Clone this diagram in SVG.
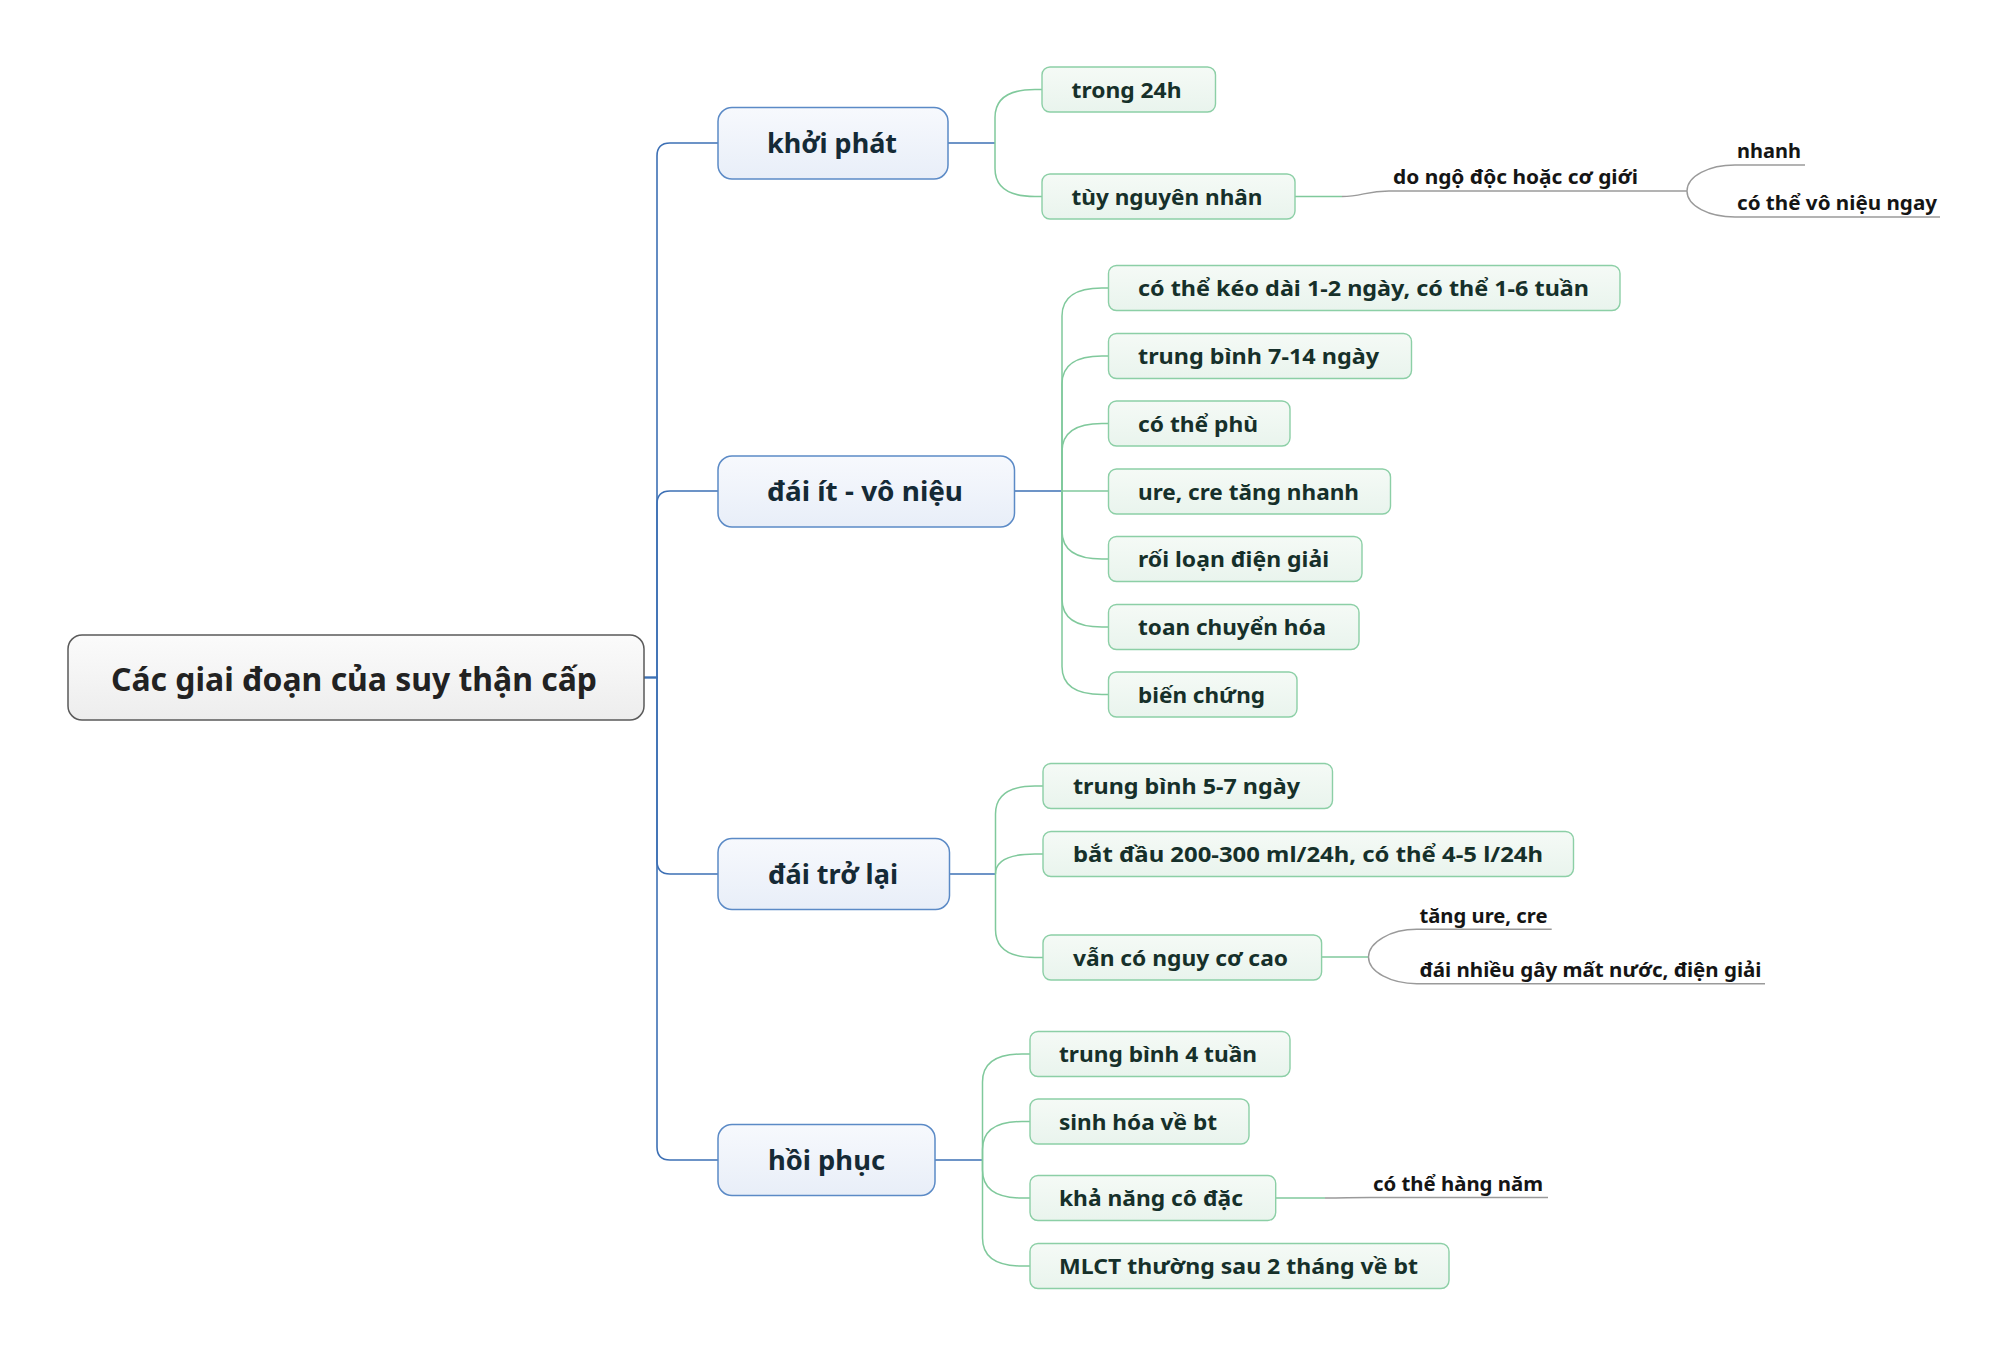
<svg xmlns="http://www.w3.org/2000/svg" width="2008" height="1355" viewBox="0 0 2008 1355">
<defs>
<linearGradient id="gRoot" x1="0" y1="0" x2="0" y2="1"><stop offset="0" stop-color="#fbfbfb"/><stop offset="1" stop-color="#ededed"/></linearGradient>
<linearGradient id="gL1" x1="0" y1="0" x2="0" y2="1"><stop offset="0" stop-color="#f7f9fd"/><stop offset="1" stop-color="#e8eef8"/></linearGradient>
<linearGradient id="gL2" x1="0" y1="0" x2="0" y2="1"><stop offset="0" stop-color="#f5faf6"/><stop offset="1" stop-color="#e9f4ed"/></linearGradient>
</defs>
<style>
text{font-family:"Noto Sans","Open Sans","DejaVu Sans",sans-serif;font-weight:bold}
.root rect{fill:url(#gRoot);stroke:#5a5a5a;stroke-width:1.5}
.root text{font-size:33px;fill:#222;text-anchor:middle}
.l1 rect{fill:url(#gL1);stroke:#5b8ac6;stroke-width:1.5}
.l1 text{font-size:27px;fill:#152a36}
.l2 rect{fill:url(#gL2);stroke:#8ccfa6;stroke-width:1.4}
.l2 text{font-size:22px;fill:#16302a}
.l3 text{font-size:20px;fill:#151515}
.cb{fill:none;stroke:#3d70b5;stroke-width:1.6}
.cg{fill:none;stroke:#80c99c;stroke-width:1.5}
.cy{fill:none;stroke:#9a9a9a;stroke-width:1.4}
</style>
<rect width="2008" height="1355" fill="#ffffff"/>
<g id="connectors">
<path class="cb" d="M644 677.5H657V156Q657 143 670 143H718"/>
<path class="cb" d="M644 677.5H657V504Q657 491 670 491H718"/>
<path class="cb" d="M644 677.5H657V861Q657 874 670 874H718"/>
<path class="cb" d="M644 677.5H657V1147Q657 1160 670 1160H718"/>
<path class="cb" d="M948 143H995"/>
<path class="cg" d="M995 143V117.5Q995 89.5 1035 89.5H1042"/>
<path class="cg" d="M995 143V168.5Q995 196.5 1035 196.5H1042"/>
<path class="cb" d="M1014.5 491H1062"/>
<path class="cg" d="M1062 491V316Q1062 288 1102 288H1108.5"/>
<path class="cg" d="M1062 491V384Q1062 356 1102 356H1108.5"/>
<path class="cg" d="M1062 491V451.5Q1062 423.5 1102 423.5H1108.5"/>
<path class="cg" d="M1062 491H1108.5"/>
<path class="cg" d="M1062 491V531Q1062 559 1102 559H1108.5"/>
<path class="cg" d="M1062 491V599Q1062 627 1102 627H1108.5"/>
<path class="cg" d="M1062 491V666.5Q1062 694.5 1102 694.5H1108.5"/>
<path class="cb" d="M949.5 874H995.5"/>
<path class="cg" d="M995.5 874V814Q995.5 786 1035 786H1043"/>
<path class="cg" d="M995.5 874Q995.5 854 1035 854H1043"/>
<path class="cg" d="M995.5 874V929.5Q995.5 957.5 1035 957.5H1043"/>
<path class="cb" d="M935 1160H982.5"/>
<path class="cg" d="M982.5 1160V1082Q982.5 1054 1022 1054H1030"/>
<path class="cg" d="M982.5 1160V1149.5Q982.5 1121.5 1022 1121.5H1030"/>
<path class="cg" d="M982.5 1160V1170Q982.5 1198 1022 1198H1030"/>
<path class="cg" d="M982.5 1160V1238Q982.5 1266 1022 1266H1030"/>
<path class="cg" d="M1295 196.5H1342"/>
<path class="cy" d="M1342 196.5C1362 196.5 1366 191 1389 191H1687"/>
<path class="cy" d="M1687 191C1687 176 1709 165 1735 165H1805"/>
<path class="cy" d="M1687 191C1687 206 1709 217 1735 217H1940"/>
<path class="cg" d="M1321.6 957H1368.5"/>
<path class="cy" d="M1368.5 957C1368.5 942 1391 929.3 1416.7 929.3H1551.7"/>
<path class="cy" d="M1368.5 957C1368.5 972 1391 983.7 1416.7 983.7H1765"/>
<path class="cg" d="M1275.7 1198H1325"/>
<path class="cy" d="M1325 1198C1345 1198 1350 1197.5 1370 1197.5H1548"/>
</g>
<g id="root" class="root"><rect x="68" y="635" width="576" height="85" rx="14"/><text x="354" y="691" textLength="486" lengthAdjust="spacingAndGlyphs">Các giai đoạn của suy thận cấp</text></g>
<g id="khoi-phat" class="l1"><rect x="718" y="107.5" width="230" height="71.5" rx="14"/><text x="767" y="153" textLength="130" lengthAdjust="spacingAndGlyphs">khởi phát</text></g>
<g id="dai-it" class="l1"><rect x="718" y="456" width="296.5" height="71" rx="14"/><text x="767" y="501" textLength="196" lengthAdjust="spacingAndGlyphs">đái ít - vô niệu</text></g>
<g id="dai-tro-lai" class="l1"><rect x="718" y="838.5" width="231.5" height="71" rx="14"/><text x="768" y="884" textLength="130" lengthAdjust="spacingAndGlyphs">đái trở lại</text></g>
<g id="hoi-phuc" class="l1"><rect x="718" y="1124.5" width="217" height="71" rx="14"/><text x="768" y="1170" textLength="117" lengthAdjust="spacingAndGlyphs">hồi phục</text></g>
<g id="trong-24h" class="l2"><rect x="1042" y="67" width="173.5" height="45" rx="8"/><text x="1071.5" y="97.5" textLength="110" lengthAdjust="spacingAndGlyphs">trong 24h</text></g>
<g id="tuy-nguyen-nhan" class="l2"><rect x="1042" y="174" width="253" height="45" rx="8"/><text x="1071.5" y="204.5" textLength="191" lengthAdjust="spacingAndGlyphs">tùy nguyên nhân</text></g>
<g id="keo-dai" class="l2"><rect x="1108.5" y="265.5" width="511.5" height="45" rx="8"/><text x="1138" y="296" textLength="451" lengthAdjust="spacingAndGlyphs">có thể kéo dài 1-2 ngày, có thể 1-6 tuần</text></g>
<g id="tb-7-14" class="l2"><rect x="1108.5" y="333.5" width="303" height="45" rx="8"/><text x="1138" y="364" textLength="241" lengthAdjust="spacingAndGlyphs">trung bình 7-14 ngày</text></g>
<g id="co-the-phu" class="l2"><rect x="1108.5" y="401" width="181.5" height="45" rx="8"/><text x="1138" y="431.5" textLength="120" lengthAdjust="spacingAndGlyphs">có thể phù</text></g>
<g id="ure-cre" class="l2"><rect x="1108.5" y="469" width="282" height="45" rx="8"/><text x="1138" y="499.5" textLength="221" lengthAdjust="spacingAndGlyphs">ure, cre tăng nhanh</text></g>
<g id="roi-loan" class="l2"><rect x="1108.5" y="536.5" width="253.5" height="45" rx="8"/><text x="1138" y="567" textLength="191" lengthAdjust="spacingAndGlyphs">rối loạn điện giải</text></g>
<g id="toan" class="l2"><rect x="1108.5" y="604.5" width="250.5" height="45" rx="8"/><text x="1138" y="635" textLength="188" lengthAdjust="spacingAndGlyphs">toan chuyển hóa</text></g>
<g id="bien-chung" class="l2"><rect x="1108.5" y="672" width="188.5" height="45" rx="8"/><text x="1138" y="702.5" textLength="127" lengthAdjust="spacingAndGlyphs">biến chứng</text></g>
<g id="tb-5-7" class="l2"><rect x="1043" y="763.5" width="289.5" height="45" rx="8"/><text x="1073" y="794" textLength="227" lengthAdjust="spacingAndGlyphs">trung bình 5-7 ngày</text></g>
<g id="bat-dau" class="l2"><rect x="1043" y="831.5" width="530.5" height="45" rx="8"/><text x="1073" y="862" textLength="470" lengthAdjust="spacingAndGlyphs">bắt đầu 200-300 ml/24h, có thể 4-5 l/24h</text></g>
<g id="van-co-nguy-co" class="l2"><rect x="1043" y="935" width="278.6" height="45" rx="8"/><text x="1073" y="965.5" textLength="215" lengthAdjust="spacingAndGlyphs">vẫn có nguy cơ cao</text></g>
<g id="tb-4-tuan" class="l2"><rect x="1030" y="1031.5" width="260" height="45" rx="8"/><text x="1059" y="1062" textLength="198" lengthAdjust="spacingAndGlyphs">trung bình 4 tuần</text></g>
<g id="sinh-hoa" class="l2"><rect x="1030" y="1099" width="219" height="45" rx="8"/><text x="1059" y="1129.5" textLength="158" lengthAdjust="spacingAndGlyphs">sinh hóa về bt</text></g>
<g id="kha-nang" class="l2"><rect x="1030" y="1175.5" width="245.7" height="45" rx="8"/><text x="1059" y="1206" textLength="184" lengthAdjust="spacingAndGlyphs">khả năng cô đặc</text></g>
<g id="mlct" class="l2"><rect x="1030" y="1243.5" width="419" height="45" rx="8"/><text x="1059" y="1274" textLength="359" lengthAdjust="spacingAndGlyphs">MLCT thường sau 2 tháng về bt</text></g>
<g id="do-ngo-doc" class="l3"><text x="1393" y="184" textLength="245" lengthAdjust="spacingAndGlyphs">do ngộ độc hoặc cơ giới</text></g>
<g id="nhanh" class="l3"><text x="1737" y="158" textLength="64" lengthAdjust="spacingAndGlyphs">nhanh</text></g>
<g id="vo-nieu-ngay" class="l3"><text x="1737" y="210" textLength="200" lengthAdjust="spacingAndGlyphs">có thể vô niệu ngay</text></g>
<g id="tang-ure" class="l3"><text x="1419.5" y="922.5" textLength="128" lengthAdjust="spacingAndGlyphs">tăng ure, cre</text></g>
<g id="dai-nhieu" class="l3"><text x="1419.5" y="977" textLength="342" lengthAdjust="spacingAndGlyphs">đái nhiều gây mất nước, điện giải</text></g>
<g id="hang-nam" class="l3"><text x="1373" y="1190.5" textLength="170" lengthAdjust="spacingAndGlyphs">có thể hàng năm</text></g>
</svg>
